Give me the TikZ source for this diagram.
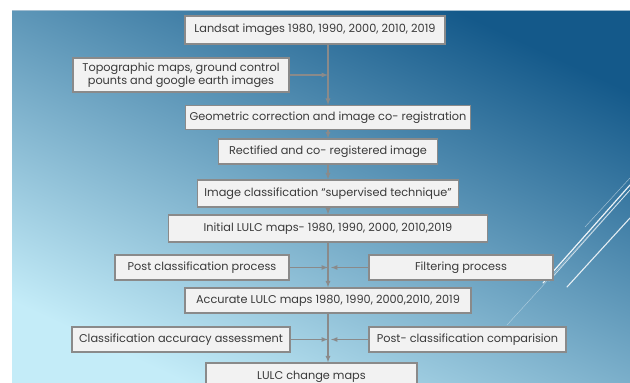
\documentclass[tikz,border=0pt]{standalone}
\usepackage{fontspec}
\setmainfont{Poppins}
\usepackage{tikz}
\usetikzlibrary{arrows,calc,positioning}

\definecolor{bgdark}{HTML}{14598A}
\definecolor{bglight}{HTML}{C4ECF8}
\definecolor{boxfill}{HTML}{F2F2F2}
\definecolor{boxline}{HTML}{8A8A8A}
\definecolor{txt}{HTML}{3A3A3A}

\tikzset{
  stage/.style={draw=boxline, line width=1.3pt, fill=boxfill, text=txt,
    font=\fontsize{11.3}{13.5}\selectfont, inner sep=0pt, align=center},
  link/.style={->, >=latex, draw=boxline, line width=1.2pt},
  deco/.style={white, line cap=round}
}

\begin{document}
\begin{tikzpicture}[x=1pt,y=-1pt]
\useasboundingbox (0,0) rectangle (630,383);
\fill[white] (0,0) rectangle (630,383);
\shade[top color=bgdark, bottom color=bglight, shading angle=-25] (12,10) rectangle (630,383);
\draw[bgdark!40!white, line width=0.8pt] (12,10.4) -- (630,10.4);

% decorative lines on the right
\draw[deco, line width=1.2pt, opacity=.9] (543,283) -- (630,185);
\draw[deco, line width=0.8pt, opacity=.7] (549,281) -- (630,190);
\draw[deco, line width=1.1pt, opacity=.85] (567,287) -- (630,218);
\draw[deco, line width=0.5pt, opacity=.5] (585,227) -- (630,178);
\draw[deco, line width=0.4pt, opacity=.45] (507,325) -- (630,190);

% boxes
\node[stage, minimum width=260pt, minimum height=28pt] (landsat) at (315,30) {Landsat images 1980, 1990, 2000, 2010, 2019};
\node[stage, minimum width=216pt, minimum height=34pt] (topo) at (181,75) {Topographic maps, ground control\\pounts and google earth images};
\node[stage, minimum width=285pt, minimum height=24pt] (geo) at (328,117.5) {Geometric correction and image co- registration};
\node[stage, minimum width=219pt, minimum height=25pt] (rect) at (328,151.5) {Rectified and co- registered image};
\node[stage, minimum width=261pt, minimum height=27pt] (cls) at (328,193.5) {Image classification ``supervised technique''};
\node[stage, minimum width=319pt, minimum height=27pt] (init) at (328,228.5) {Initial LULC maps- 1980, 1990, 2000, 2010,2019};
\node[stage, minimum width=174pt, minimum height=25pt] (post) at (202,267.5) {Post classification process};
\node[stage, minimum width=184pt, minimum height=25pt] (filt) at (461,267.5) {Filtering process};
\node[stage, minimum width=286pt, minimum height=25pt] (acc) at (328,300.5) {Accurate LULC maps 1980, 1990, 2000,2010, 2019};
\node[stage, minimum width=218pt, minimum height=25pt] (assess) at (181,339.5) {Classification accuracy assessment};
\node[stage, minimum width=197pt, minimum height=25pt] (comp) at (467.5,339.5) {Post- classification comparision};
\node[stage, minimum width=211pt, minimum height=27pt] (change) at (311.5,376.5) {LULC change maps};

\coordinate (j1) at (328,267.5);
\coordinate (j2) at (328,339.5);

% connectors
\draw[link] (geo.north |- landsat.south) -- (geo.north);
\draw[link] (topo.east) -- (topo.east -| geo.north);
\draw[link] (geo) -- (rect);
\draw[link] (rect) -- (cls);
\draw[link] (cls) -- (init);
\draw[link] (init) -- (acc);
\draw[link] (post) -- (j1);
\draw[link] (filt) -- ([xshift=3pt]j1);
\draw[link] (acc.south) -- (acc.south |- change.north);
\draw[link] (assess) -- (j2);
\draw[link] (comp) -- ([xshift=3pt]j2);
\end{tikzpicture}
\end{document}
